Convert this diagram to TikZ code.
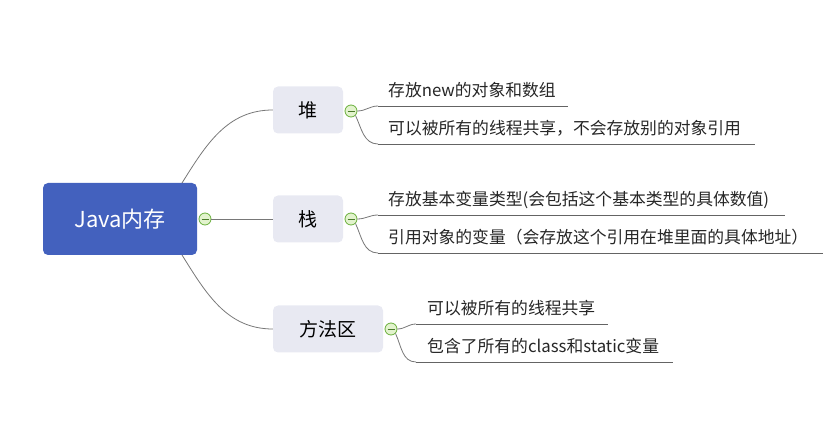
\documentclass[tikz,border=0pt]{standalone}
\usepackage{fontspec}
\setmainfont{Noto Sans CJK SC}
\usetikzlibrary{calc}
\definecolor{rootblue}{RGB}{67,97,190}
\definecolor{subgray}{RGB}{232,233,242}
\definecolor{linegray}{RGB}{120,120,120}
\definecolor{ulgray}{RGB}{100,100,100}
\definecolor{cfill}{RGB}{226,243,205}
\definecolor{cdraw}{RGB}{106,176,60}
\tikzset{
  rootbox/.style={fill=rootblue, rounded corners=5pt, minimum width=154pt, minimum height=72pt, text=white, font=\fontsize{22}{26}\selectfont, inner sep=0pt},
  subbox/.style={fill=subgray, rounded corners=5pt, minimum height=47pt, font=\fontsize{19}{22}\selectfont, inner sep=0pt},
  leaf/.style={anchor=base west, inner sep=0pt, font=\fontsize{16.8}{20}\selectfont, text=black!85},
  conn/.style={draw=linegray, line width=0.8pt},
  uline/.style={draw=ulgray, line width=0.9pt},
  fold/.style={circle, draw=cdraw, fill=cfill, line width=0.8pt, minimum size=12pt, inner sep=0pt,
    path picture={\draw[cdraw!70!black, line width=0.9pt] ($(path picture bounding box.center)+(-3.5pt,0)$) -- ($(path picture bounding box.center)+(3.5pt,0)$);}},
}
\begin{document}
\begin{tikzpicture}[x=1pt,y=-1pt]
\useasboundingbox (0,0) rectangle (835,435);
% root
\node[rootbox] (root) at (120,219) {Java内存};
\node[subbox, minimum width=70pt] (heap) at (308,110) {堆};
\node[subbox, minimum width=70pt] (stack) at (308,219) {栈};
\node[subbox, minimum width=110pt] (method) at (328,329) {方法区};
% connectors root
\coordinate (rt) at (182,183);
\coordinate (rb) at (182,255);
\draw[conn] (rt) to[out=58,in=180] (heap.west);
\draw[conn] (rb) to[out=-58,in=180] (method.west);
\node[fold] (c0) at (205,219) {};
\draw[conn] (c0.east) -- (stack.west);
% fold circles
\node[fold] (c1) at (351,111) {};
\node[fold] (c2) at (351,219) {};
\node[fold] (c3) at (391,329) {};
% heap leaves
\node[leaf] (h1) at (388,97) {存放new的对象和数组};
\node[leaf] (h2) at (388,135) {可以被所有的线程共享，不会存放别的对象引用};
\coordinate (h1s) at (378,106); \coordinate (h1e) at (568,106);
\coordinate (h2s) at (378,144); \coordinate (h2e) at (755,144);
\draw[conn] (c1.east) to[out=0,in=180] (h1s);
\draw[uline] (h1s) -- (h1e);
\draw[conn] (c1.south east) to[out=-65,in=180] (h2s);
\draw[uline] (h2s) -- (h2e);
% stack leaves
\node[leaf] (s1) at (388,206) {存放基本变量类型(会包括这个基本类型的具体数值)};
\node[leaf] (s2) at (388,244) {引用对象的变量（会存放这个引用在堆里面的具体地址）};
\coordinate (s1s) at (378,215); \coordinate (s1e) at (785,215);
\coordinate (s2s) at (378,253); \coordinate (s2e) at (823,253);
\draw[conn] (c2.east) to[out=0,in=180] (s1s);
\draw[uline] (s1s) -- (s1e);
\draw[conn] (c2.south east) to[out=-65,in=180] (s2s);
\draw[uline] (s2s) -- (s2e);
% method leaves
\node[leaf] (m1) at (427,315) {可以被所有的线程共享};
\node[leaf] (m2) at (427,353) {包含了所有的class和static变量};
\coordinate (m1s) at (416,324); \coordinate (m1e) at (608,324);
\coordinate (m2s) at (416,362); \coordinate (m2e) at (673,362);
\draw[conn] (c3.east) to[out=0,in=180] (m1s);
\draw[uline] (m1s) -- (m1e);
\draw[conn] (c3.south east) to[out=-65,in=180] (m2s);
\draw[uline] (m2s) -- (m2e);
\end{tikzpicture}
\end{document}
